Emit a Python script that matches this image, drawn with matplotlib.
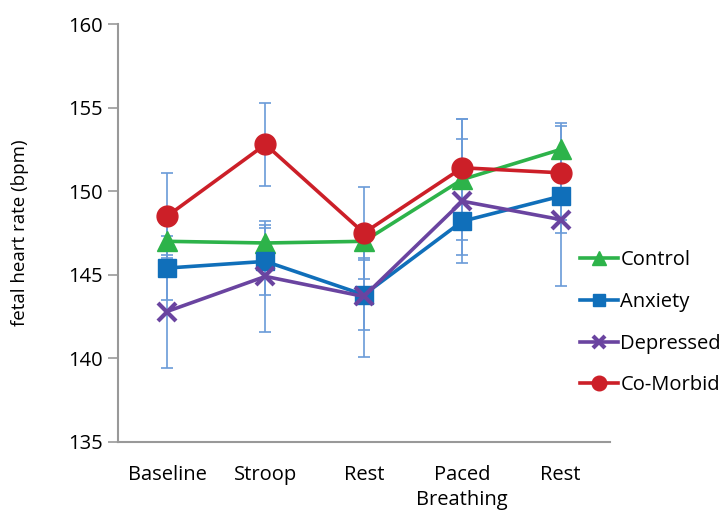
import numpy as np
import matplotlib
matplotlib.use("Agg")
import matplotlib.pyplot as plt

plt.rcParams['font.family'] = ['Open Sans', 'DejaVu Sans']

phases = ['Baseline', 'Stroop', 'Rest', 'Paced\nBreathing', 'Rest']

control = [147.0, 146.9, 147.0, 150.7, 152.5]
anxiety = [145.4, 145.8, 143.8, 148.2, 149.7]
depressed = [142.8, 144.9, 143.7, 149.4, 148.3]
comorbid = [148.5, 152.8, 147.5, 151.4, 151.1]

control_err = [1.0, 1.1, 1.0, 3.6, 1.6]
anxiety_err = [1.9, 2.0, 2.1, 2.0, 2.2]
depressed_err = [3.4, 3.3, 3.6, 3.7, 4.0]
comorbid_err = [2.6, 2.5, 2.75, 2.9, 2.8]

series = [
    ('Control', control, control_err, '#2db34a', '^', 14, 1),
    ('Anxiety', anxiety, anxiety_err, '#106fba', 's', 13, 1),
    ('Depressed', depressed, depressed_err, '#6a44a0', 'x', 13, 3),
    ('Co-Morbid', comorbid, comorbid_err, '#cc1f28', 'o', 15, 1),
]

fig = plt.figure(figsize=(7.27, 5.12), dpi=100)
ax = fig.add_axes([0.162, 0.137, 0.677, 0.816])

x = np.arange(len(phases)) + 0.5
handles = []
for name, vals, err, col, mk, ms, mew in series:
    ax.errorbar(x, vals, yerr=err, fmt='none', ecolor='#6a9bd8', elinewidth=1.2,
                capsize=4, capthick=1.2, zorder=1)
for name, vals, err, col, mk, ms, mew in series:
    h, = ax.plot(x, vals, color=col, lw=2.6, marker=mk, ms=ms, mew=mew,
                 mec=col, mfc=col, label=name, zorder=3)
    handles.append(h)

ax.set_xlim(0, 5)
ax.set_ylim(135, 160)
ax.set_yticks(range(135, 161, 5))
ax.set_xticks(x)
ax.set_xticklabels(phases, fontsize=14.5, linespacing=1.3)
ax.tick_params(axis='x', length=0, pad=17)
ax.tick_params(axis='y', labelsize=14.5, length=7, width=1.2, color='#999999', pad=4)
ax.set_ylabel('fetal heart rate (bpm)', fontsize=13.5, labelpad=28)

for s in ['top', 'right']:
    ax.spines[s].set_visible(False)
for s in ['left', 'bottom']:
    ax.spines[s].set_color('#999999')
    ax.spines[s].set_linewidth(1.5)

leg = fig.legend(handles=handles, loc='upper left', bbox_to_anchor=(0.787, 0.527),
                 frameon=False, fontsize=14.5, labelspacing=1.08, handlelength=1.9,
                 handletextpad=0.1, markerscale=0.7, borderaxespad=0)

fig.savefig('out.png', dpi=100)
